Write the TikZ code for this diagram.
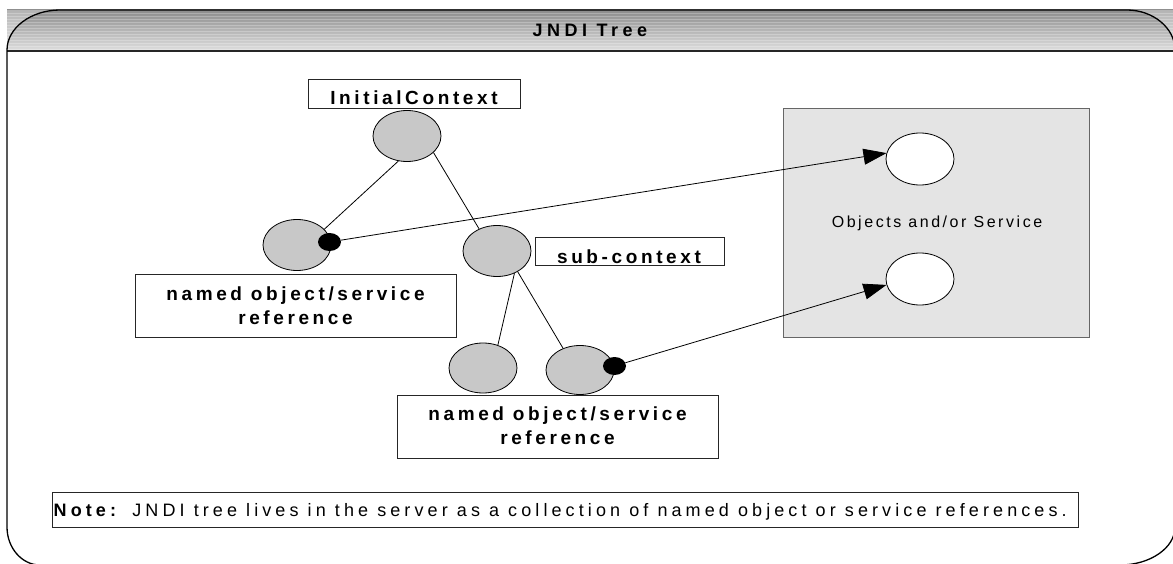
\documentclass[tikz,border=0pt]{standalone}
\usepackage{fontspec}
\setmainfont{Liberation Sans}
\newfontfamily\spc[LetterSpace=19]{Liberation Sans}
\newfontfamily\spct[LetterSpace=25]{Liberation Sans}
\newfontfamily\spcp[LetterSpace=16]{Liberation Sans}
\newfontfamily\spcn[LetterSpace=22.8]{Liberation Sans}
\usetikzlibrary{arrows.meta,shapes.geometric}
\definecolor{ellgray}{RGB}{200,200,200}
\definecolor{panelgray}{RGB}{228,228,228}
\begin{document}
\begin{tikzpicture}[x=1pt,y=-1pt,
  treeell/.style={ellipse, draw=black, line width=0.8pt, fill=ellgray, minimum width=68pt, minimum height=51pt, inner sep=0pt},
  whiteell/.style={ellipse, draw=black, line width=0.8pt, fill=white, minimum width=68pt, minimum height=52pt, inner sep=0pt},
  refdot/.style={ellipse, fill=black, minimum width=23pt, minimum height=18pt, inner sep=0pt},
  labelbox/.style={draw=black!85, line width=1.3pt, fill=white, inner sep=0pt, anchor=north west},
  boldlbl/.style={font=\spc\bfseries\fontsize{19}{23.5}\selectfont, inner sep=0pt, anchor=base, align=center},
  link/.style={draw=black, line width=0.8pt},
  refarrow/.style={draw=black, line width=0.8pt, -{Triangle[length=23pt,width=16pt]}}
]
\useasboundingbox (0,0) rectangle (1173,564);
% header band
\shade[top color=gray!90, middle color=gray!60, bottom color=gray!25] (7,10) rectangle (1175,51);
\foreach \yy in {13,16,...,49} \draw[white, opacity=0.25, line width=0.8pt] (7,\yy) -- (1175,\yy);
\fill[white, opacity=0.35] (7,10) -- (60,10) .. controls (31,10) and (7,28) .. (7,50) -- cycle;
\fill[white, opacity=0.35] (1175,10) -- (1127,10) .. controls (1153,10) and (1175,28) .. (1175,50) -- cycle;
\draw[line width=2.5pt, black!85] (7,51) -- (1175,51);
% outer frame
\draw[line width=1.3pt] (7,50) -- (7,527) .. controls (7,548) and (22,565) .. (40,565) -- (1120,565) .. controls (1150,565) and (1175,548) .. (1175,527) -- (1175,50) .. controls (1175,28) and (1153,10) .. (1127,10) -- (60,10) .. controls (31,10) and (7,28) .. (7,50) -- cycle;
\node[font=\spct\bfseries\fontsize{18}{20}\selectfont, inner sep=0pt, anchor=base] (title) at (590,36.7) {JNDI Tree};

% objects panel
\node[draw=black!60, line width=0.8pt, fill=panelgray, minimum width=306pt, minimum height=229pt, inner sep=0pt, anchor=north west] (panel) at (783,108) {};
\node[font=\spcp\fontsize{16}{18}\selectfont, inner sep=0pt, anchor=base] (paneltext) at (937,228) {Objects and/or Service};
\node[whiteell] (objA) at (920,159) {};
\node[whiteell] (objB) at (920,279) {};

% labels
\node[labelbox, minimum width=212pt, minimum height=29pt] (icbox) at (308,79) {};
\node[boldlbl] (ictext) at (414,105) {InitialContext};
\node[labelbox, minimum width=189pt, minimum height=28pt] (scbox) at (535,237) {};
\node[boldlbl] (sctext) at (629,263) {sub-context};
\node[labelbox, minimum width=321pt, minimum height=63pt] (refboxA) at (135,274) {};
\node[boldlbl] (reftextA) at (295.5,324) {named object/service\\reference};
\node[labelbox, minimum width=321pt, minimum height=63pt] (refboxB) at (397,395) {};
\node[boldlbl] (reftextB) at (557.5,444) {named object/service\\reference};

% tree
\node[treeell] (root) at (407,136) {};
\node[treeell] (left) at (297,245) {};
\node[treeell] (sub) at (497,251) {};
\node[treeell, minimum height=50pt] (ll) at (483,368) {};
\node[treeell, minimum height=49pt] (lr) at (580,370) {};
\draw[link] (root.251) -- (left.30);
\draw[link] (root.328) -- (sub.129);
\draw[link] (sub.308) -- (ll.57);
\draw[link] (sub.315) -- (lr.128);

\node[refdot] (dotA) at (329.5,242) {};
\node[refdot] (dotB) at (614.5,366) {};
\draw[refarrow] (dotA) -- (objA.170);
\draw[refarrow] (dotB) -- (objB.190);

% note
\node[labelbox, minimum width=1026pt, minimum height=35pt] (notebox) at (52,492) {};
\node[font=\spcn\fontsize{18}{20}\selectfont, inner sep=0pt, anchor=base west] (notetext) at (53.5,516.7) {\textbf{Note:} JNDI tree lives in the server as a collection of named object or service references.};
\end{tikzpicture}
\end{document}
